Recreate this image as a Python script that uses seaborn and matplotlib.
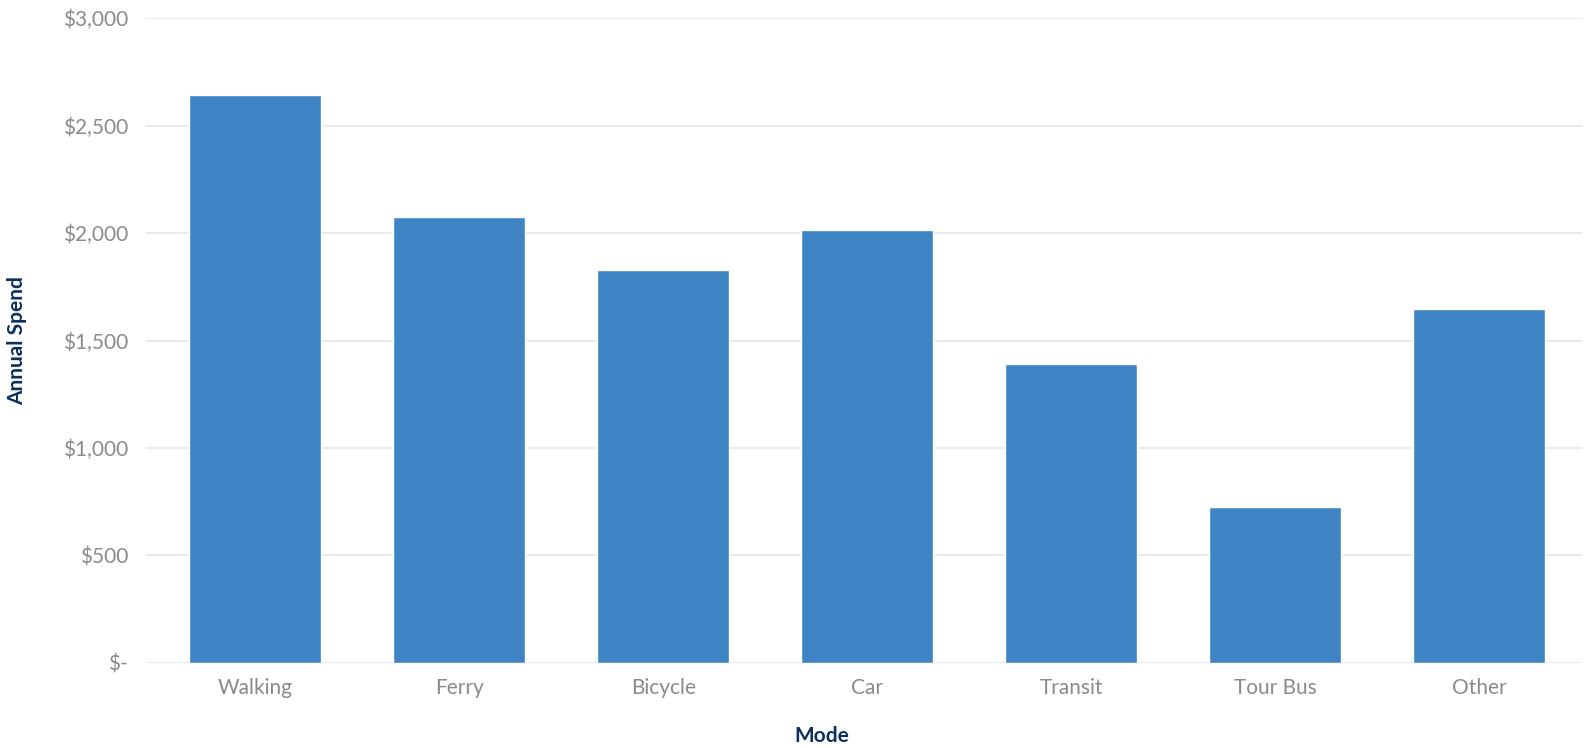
import matplotlib
matplotlib.use("Agg")
import matplotlib.pyplot as plt
import seaborn as sns
import pandas as pd
from matplotlib.ticker import FuncFormatter

modes = ["Walking", "Ferry", "Bicycle", "Car", "Transit", "Tour Bus", "Other"]
spend = [2643, 2077, 1828, 2014, 1391, 725, 1648]
yticks = [0, 500, 1000, 1500, 2000, 2500, 3000]

sns.set_theme(style="white")
plt.rcParams['font.family'] = ['Lato', 'DejaVu Sans']

df = pd.DataFrame({"Mode": modes, "Spend": spend})

fig = plt.figure(figsize=(15.87, 7.48), dpi=100)
ax = fig.add_axes([0.092, 0.114, 0.9047, 0.8615])
sns.barplot(data=df, x="Mode", y="Spend", color="#3f84c5", saturation=1,
            width=0.647, ax=ax, zorder=3)

ax.set_ylim(0, 3000)
ax.set_xlim(-0.535, 6.503)
ax.set_yticks(yticks)
ax.yaxis.set_major_formatter(FuncFormatter(lambda v, p: "$-" if v == 0 else f"${v:,.0f}"))
ax.grid(axis="y", color="#e6e6e6", linewidth=1.2, zorder=0)
for s in ax.spines.values():
    s.set_visible(False)
ax.tick_params(axis="both", length=0, labelsize=15, labelcolor="#8a8a8a")
ax.tick_params(axis="y", pad=13)
ax.tick_params(axis="x", pad=11)
ax.set_xlabel("Mode", fontsize=15, fontweight="bold", color="#0b2f5e")
ax.set_ylabel("Annual Spend", fontsize=15, fontweight="bold", color="#0b2f5e")
ax.xaxis.set_label_coords(0.471, -0.098)
ax.yaxis.set_label_coords(-0.083, 0.5)

fig.savefig("out.png", dpi=100, facecolor="white")
